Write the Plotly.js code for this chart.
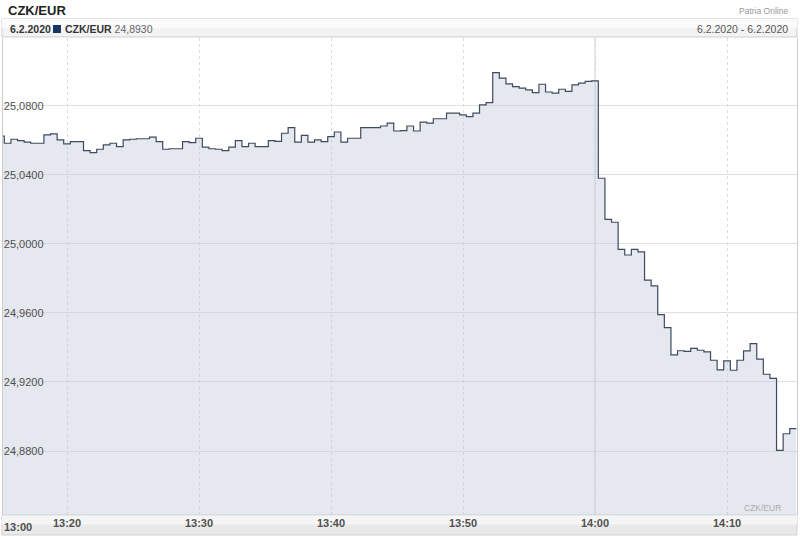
<!DOCTYPE html>
<html>
<head>
<meta charset="utf-8">
<script src="https://cdn.plot.ly/plotly-3.0.1.min.js"></script>
<style>html,body{margin:0;padding:0;background:#fff;}#chart{width:800px;height:539px;}</style>
</head>
<body>
<div id="chart"></div>
<script>
// Quotes CZK/EUR, 6.2.2020, one value every 30 s starting 13:14:45
const dayStr = '2020-02-06';
const startTime = '13:14:45';
const stepSeconds = 30;
const rates = [
  25.0626, 25.0584, 25.0607, 25.0599, 25.0591, 25.0584, 25.0584, 25.0632, 25.0638, 25.0603, 25.0580,
  25.0593, 25.0593, 25.0541, 25.0529, 25.0549, 25.0574, 25.0584, 25.0564, 25.0603, 25.0607,
  25.0610, 25.0610, 25.0619, 25.0593, 25.0549, 25.0552, 25.0552, 25.0593, 25.0587, 25.0613,
  25.0561, 25.0552, 25.0549, 25.0541, 25.0561, 25.0599, 25.0564, 25.0584, 25.0564, 25.0564,
  25.0599, 25.0595, 25.0642, 25.0674, 25.0591, 25.0630, 25.0591, 25.0603, 25.0593, 25.0622,
  25.0649, 25.0591, 25.0613, 25.0613, 25.0674, 25.0674, 25.0674, 25.0684, 25.0700, 25.0655,
  25.0657, 25.0684, 25.0655, 25.0706, 25.0700, 25.0726, 25.0726, 25.0758, 25.0758, 25.0748,
  25.0738, 25.0758, 25.0806, 25.0819, 25.0993, 25.0961, 25.0928, 25.0912, 25.0904, 25.0893,
  25.0877, 25.0926, 25.0881, 25.0874, 25.0897, 25.0885, 25.0922, 25.0932, 25.0943, 25.0945,
  25.0381, 25.0143, 25.0126, 24.9969, 24.9936, 24.9969, 24.9954, 24.9791, 24.9757, 24.9590,
  24.9515, 24.9357, 24.9381, 24.9378, 24.9395, 24.9384, 24.9374, 24.9326, 24.9270, 24.9322,
  24.9268, 24.9326, 24.9380, 24.9422, 24.9333, 24.9245, 24.9221, 24.8804, 24.8900, 24.8930
];
const xTickTimes = ['13:20', '13:30', '13:40', '13:50', '14:00', '14:10'];
const xTickLabels = ['13:20', '13:30', '13:40', '13:50', '14:00', '14:10'];
const yTickVals = [24.88, 24.92, 24.96, 25.00, 25.04, 25.08];
const yTickLabels = ['24,8800', '24,9200', '24,9600', '25,0000', '25,0400', '25,0800'];
const seriesName = 'CZK/EUR';
const lastValueLabel = '24,8930';
const dateLabel = '6.2.2020';
const rangeLabel = '6.2.2020 - 6.2.2020';
const firstAxisLabel = '13:00';

function fmt(sec){
  const h = Math.floor(sec/3600), m = Math.floor((sec%3600)/60), s = sec%60;
  const p = n => String(n).padStart(2,'0');
  return dayStr + ' ' + p(h) + ':' + p(m) + ':' + p(s);
}
const [sh, sm, ss] = startTime.split(':').map(Number);
const startSec = sh*3600 + sm*60 + ss;
const xs = rates.map((_, i) => fmt(startSec + i*stepSeconds));
// extend last step to its end
const xsPlot = xs.concat([fmt(startSec + rates.length*stepSeconds)]);
const ysPlot = rates.concat([rates[rates.length-1]]);

const trace = {
  x: xsPlot, y: ysPlot, type: 'scatter', mode: 'lines',
  line: {shape: 'hv', color: '#3f4a5e', width: 1.2},
  fill: 'tozeroy', fillcolor: 'rgba(195,201,218,0.42)',
  hoverinfo: 'skip'
};

const F = 'Arial, "Liberation Sans", sans-serif';
const layout = {
  width: 800, height: 539,
  margin: {l: 3, r: 3, t: 38, b: 24, pad: 0},
  paper_bgcolor: '#ffffff', plot_bgcolor: '#ffffff',
  showlegend: false,
  xaxis: {
    type: 'date',
    range: [dayStr + ' 13:15:09', dayStr + ' 14:15:18'],
    tickvals: xTickTimes.map(t => dayStr + ' ' + t),
    ticktext: xTickLabels,
    tickfont: {family: F, size: 11, color: '#505050', weight: 'bold'},
    ticks: '', showgrid: true, griddash: '3px,3px', gridcolor: '#dadada', gridwidth: 1,
    zeroline: false, showline: false, fixedrange: true
  },
  yaxis: {
    range: [24.8429, 25.1194],
    tickvals: yTickVals, ticktext: yTickLabels,
    ticklabelposition: 'inside', ticks: '', ticklen: 4,
    tickfont: {family: F, size: 11, color: '#505050'},
    showgrid: true, gridcolor: '#e0e0e0', gridwidth: 1,
    zeroline: false, showline: true, linecolor: '#cccccc', mirror: true, fixedrange: true
  },
  shapes: [
    {type: 'rect', xref: 'paper', yref: 'paper', x0: -0.0013, x1: 1.0, y0: 1.0021, y1: 1.0398,
     fillcolor: '#f3f3f3', line: {color: '#cdcdcd', width: 1}, layer: 'below'},
    {type: 'rect', xref: 'paper', yref: 'paper', x0: -0.0013, x1: 1.0, y0: 1.021, y1: 1.0398,
     fillcolor: '#fbfbfb', line: {width: 0}, layer: 'below'},
    {type: 'rect', xref: 'paper', yref: 'paper', x0: 0.0630, x1: 0.0730, y0: 1.0105, y1: 1.0273,
     fillcolor: '#1b3664', line: {width: 0}, layer: 'below'},
    {type: 'rect', xref: 'paper', yref: 'paper', x0: -0.0013, x1: 1.0, y0: -0.0419, y1: 0,
     fillcolor: '#e9e9e9', line: {color: '#d0d0d0', width: 1}, layer: 'below'},
    {type: 'rect', xref: 'paper', yref: 'paper', x0: -0.0013, x1: 1.0, y0: -0.02, y1: -0.001,
     fillcolor: '#f5f5f5', line: {width: 0}, layer: 'below'},
    {type: 'line', xref: 'x', yref: 'paper', x0: dayStr + ' ' + xTickTimes[4], x1: dayStr + ' ' + xTickTimes[4],
     y0: 0, y1: 1, line: {color: '#cfcfcf', width: 1}, layer: 'below'}
  ],
  annotations: [
    {xref: 'paper', yref: 'paper', x: 0.0038, y: 1.0587, xanchor: 'left', yanchor: 'middle',
     text: '<b>' + seriesName + '</b>', showarrow: false, font: {family: F, size: 13, color: '#222'}},
    {xref: 'paper', yref: 'paper', x: 0.9912, y: 1.0566, xanchor: 'right', yanchor: 'middle',
     text: 'Patria Online', showarrow: false, font: {family: F, size: 8.5, color: '#999'}},
    {xref: 'paper', yref: 'paper', x: 0.0063, y: 1.0199, xanchor: 'left', yanchor: 'middle',
     text: '<b>' + dateLabel + '</b>', showarrow: false, font: {family: F, size: 10.5, color: '#333'}},
    {xref: 'paper', yref: 'paper', x: 0.0755, y: 1.0199, xanchor: 'left', yanchor: 'middle',
     text: '<b>' + seriesName + '</b> <span style="color:#666">' + lastValueLabel + '</span>',
     showarrow: false, font: {family: F, size: 10.5, color: '#333'}},
    {xref: 'paper', yref: 'paper', x: 0.9912, y: 1.0199, xanchor: 'right', yanchor: 'middle',
     text: rangeLabel, showarrow: false, font: {family: F, size: 10.5, color: '#555'}},
    {xref: 'paper', yref: 'paper', x: -0.001, y: -0.0252, xanchor: 'left', yanchor: 'middle',
     text: '<b>' + firstAxisLabel + '</b>', showarrow: false, font: {family: F, size: 11, color: '#505050'}},
    {xref: 'paper', yref: 'paper', x: 0.9824, y: 0.0147, xanchor: 'right', yanchor: 'middle',
     text: seriesName, showarrow: false, font: {family: F, size: 8.5, color: '#aaa'}}
  ]
};

Plotly.newPlot('chart', [trace], layout, {displayModeBar: false, staticPlot: true});
</script>
</body>
</html>
